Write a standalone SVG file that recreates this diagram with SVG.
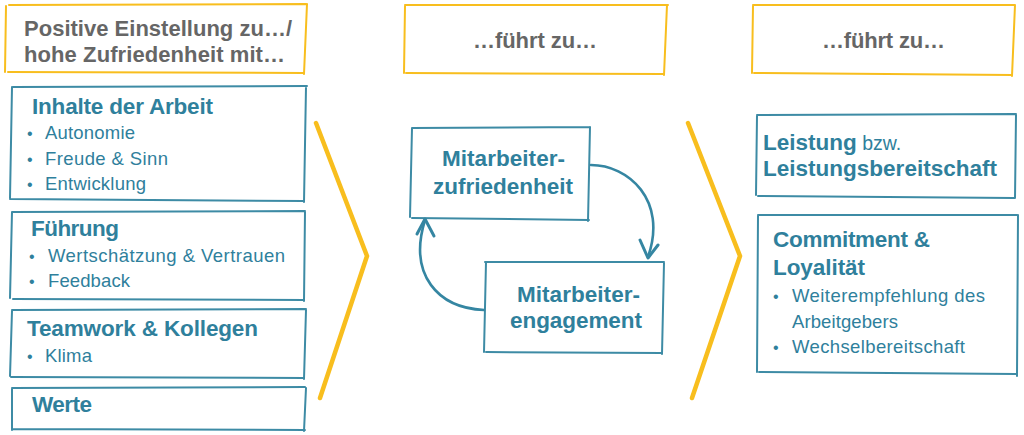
<svg xmlns="http://www.w3.org/2000/svg" width="1024" height="435" viewBox="0 0 1024 435">
<style>
.yb{fill:none;stroke:#F8BE1E;stroke-width:2;stroke-linecap:round}
.tb{fill:none;stroke:#3D8BA5;stroke-width:2;stroke-linecap:round}
.chev{fill:none;stroke:#F8BE1E;stroke-width:4.5;stroke-linecap:round;stroke-linejoin:miter}
.hd{font-family:"Liberation Sans",Arial,sans-serif;font-weight:bold;font-size:22px;fill:#666666}
.ti{font-family:"Liberation Sans",Arial,sans-serif;font-weight:bold;font-size:22.5px;fill:#2F809C}
.tx{font-family:"Liberation Sans",Arial,sans-serif;font-size:18.5px;fill:#2F809C}
.bu{font-family:"Liberation Sans",Arial,sans-serif;font-size:16px;fill:#2F809C}
.cn{fill:none;stroke:#3586A2;stroke-width:3;stroke-linecap:round;stroke-linejoin:round}
</style>
<rect width="1024" height="435" fill="#ffffff"/>

<g id="header-left">
<path class="yb" d="M9,5 L306,4 M6,6 L5,72 M8,72 L304,73 M307,4 L304,74"/>
<text class="hd" x="24" y="36" textLength="268">Positive Einstellung zu…/</text>
<text class="hd" x="24" y="62" textLength="261">hohe Zufriedenheit mit…</text>
</g>

<g id="header-mid">
<path class="yb" d="M405,5 L668,5 M405,6 L404,73 M406,73 L663,74 M667,5 L664,75"/>
<text class="hd" x="473" y="48" textLength="124">…führt zu…</text>
</g>

<g id="header-right">
<path class="yb" d="M753,5 L1015,5 M753,6 L752,73 M754,73 L1012,75 M1015,5 L1012,76"/>
<text class="hd" x="822" y="48" textLength="123">…führt zu…</text>
</g>

<g id="chevron-left">
<path class="chev" d="M316,123 L367,256 L320,398"/>
</g>
<g id="chevron-right">
<path class="chev" d="M688,123 L740,256 L692,398"/>
</g>

<g id="inhalte">
<path class="tb" d="M13,87 L307,86 M12,87 L10,198 M10,199 L304,201 M306,87 L304,202"/>
<text class="ti" x="32" y="114" textLength="181">Inhalte der Arbeit</text>
<text class="bu" x="27" y="139">•</text>
<text class="tx" x="45" y="139" textLength="90">Autonomie</text>
<text class="bu" x="27" y="165">•</text>
<text class="tx" x="45" y="165" textLength="123">Freude &amp; Sinn</text>
<text class="bu" x="27" y="190">•</text>
<text class="tx" x="45" y="190" textLength="101">Entwicklung</text>
</g>

<g id="fuehrung">
<path class="tb" d="M12,212 L305,211 M12,212 L10,298 M13,299 L304,300 M305,212 L304,301"/>
<text class="ti" x="31" y="236" textLength="88">Führung</text>
<text class="bu" x="29" y="262">•</text>
<text class="tx" x="48" y="262" textLength="237">Wertschätzung &amp; Vertrauen</text>
<text class="bu" x="29" y="287">•</text>
<text class="tx" x="48" y="287" textLength="82">Feedback</text>
</g>

<g id="teamwork">
<path class="tb" d="M12,310 L306,309 M12,311 L10,376 M11,377 L304,378 M306,310 L304,379"/>
<text class="ti" x="27" y="336" textLength="231">Teamwork &amp; Kollegen</text>
<text class="bu" x="27" y="362">•</text>
<text class="tx" x="45" y="362" textLength="47">Klima</text>
</g>

<g id="werte">
<path class="tb" d="M12,388 L305,387 M12,389 L12,430 M13,429 L305,430 M306,388 L304,431"/>
<text class="ti" x="32" y="412" textLength="60">Werte</text>
</g>

<g id="zufriedenheit">
<path class="tb" d="M412,128 L590,127 M412,128 L410,217 M412,218 L589,220 M590,127 L588,221"/>
<text class="ti" x="442" y="166" textLength="123">Mitarbeiter-</text>
<text class="ti" x="433" y="194" textLength="140">zufriedenheit</text>
</g>

<g id="engagement">
<path class="tb" d="M485,262 L664,262 M486,262 L484,352 M486,352 L662,353 M664,263 L662,354"/>
<text class="ti" x="517" y="302" textLength="123">Mitarbeiter-</text>
<text class="ti" x="510" y="328" textLength="132">engagement</text>
</g>

<g id="leistung">
<path class="tb" d="M757,115 L1016,114 M757,116 L756,195 M758,196 L1014,198 M1016,115 L1015,198"/>
<text class="ti" x="763" y="150">Leistung<tspan style="font-weight:normal;font-size:19.5px"> bzw.</tspan></text>
<text class="ti" x="763" y="176" textLength="234">Leistungsbereitschaft</text>
</g>

<g id="commitment">
<path class="tb" d="M758,215 L1017,215 M758,216 L757,372 M759,372 L1016,374 M1018,215 L1017,376"/>
<text class="ti" x="773" y="247" textLength="157">Commitment &amp;</text>
<text class="ti" x="773" y="275" textLength="92">Loyalität</text>
<text class="bu" x="773" y="302">•</text>
<text class="tx" x="792" y="302" textLength="193">Weiterempfehlung des</text>
<text class="tx" x="792" y="328" textLength="106">Arbeitgebers</text>
<text class="bu" x="773" y="353">•</text>
<text class="tx" x="792" y="353" textLength="173">Wechselbereitschaft</text>
</g>

<g id="connectors">
<path class="cn" d="M591,165 C628,165 668,200 648,257" style="stroke-width:2.6"/>
<path class="cn" d="M640,240 L648,258 L658,245"/>
<path class="cn" d="M484,310 C438,308 408,275 425,220" style="stroke-width:2.6"/>
<path class="cn" d="M417,234 L425,219 L434,236"/>
</g>
</svg>
